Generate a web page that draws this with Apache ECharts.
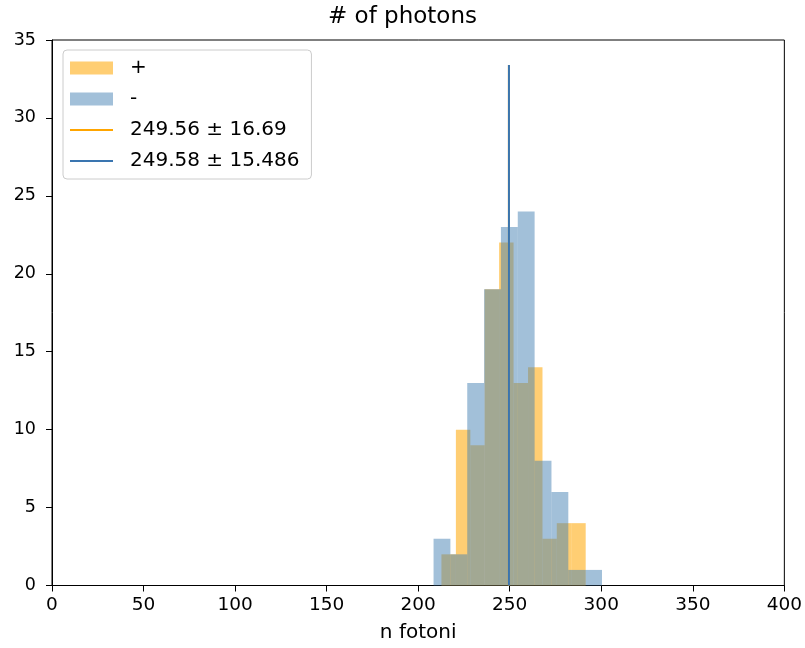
<!DOCTYPE html>
<html>
<head>
<meta charset="utf-8">
<script src="https://cdn.jsdelivr.net/npm/echarts@6/dist/echarts.min.js"></script>
<style>
html,body{margin:0;padding:0;background:#fff;}
#c{width:805px;height:648px;}
</style>
</head>
<body>
<div id="c"></div>
<script>
// ---- data ----
const titleText = '# of photons';
const xName = 'n fotoni';
const plusName = '+';
const minusName = '-';
const plusMeanName = '249.56 \u00b1 16.69';
const minusMeanName = '249.58 \u00b1 15.486';
const plusEdges = [212.7, 220.6, 228.5, 236.3, 244.2, 252.1, 260.0, 267.9, 275.7, 283.6, 291.5];
const plusCounts = [2, 10, 9, 19, 22, 13, 14, 3, 4, 4];
const minusEdges = [208.4, 217.6, 226.8, 236.0, 245.2, 254.4, 263.6, 272.8, 282.0, 291.2, 300.4];
const minusCounts = [3, 2, 13, 19, 23, 24, 8, 6, 1, 1];
const plusMean = 249.56;
const minusMean = 249.58;
const meanLineTop = 33.4;
const xTicks = [0, 400, 50];
const yTicks = [0, 35, 5];

const FONT = 'DejaVu Sans';
const plusFill = 'rgba(255,165,0,0.55)';
const minusFill = 'rgba(70,130,180,0.5)';
const lineIcon = 'path://M0,0 L43,0 L43,2 L0,2 Z';

function histData(edges, counts) {
  return counts.map((c, i) => [edges[i], edges[i + 1], c]);
}
function renderBin(params, api) {
  const p0 = api.coord([api.value(0), 0]);
  const p1 = api.coord([api.value(1), api.value(2)]);
  return {
    type: 'rect',
    shape: { x: p0[0], y: p1[1], width: p1[0] - p0[0], height: p0[1] - p1[1] },
    style: { fill: api.visual('color') }
  };
}

const chart = echarts.init(document.getElementById('c'), null, { renderer: 'canvas' });
chart.setOption({
  animation: false,
  backgroundColor: '#fff',
  title: {
    text: titleText, left: 'center', top: 6, padding: 0,
    textStyle: { fontFamily: FONT, fontSize: 23, fontWeight: 'normal', color: '#000' }
  },
  grid: { left: 52, right: 20.5, top: 40, bottom: 62.5, show: true, borderColor: '#000', borderWidth: 1, backgroundColor: 'transparent' },
  legend: {
    orient: 'vertical', left: 63, top: 50,
    padding: [8, 12, 8, 7],
    itemWidth: 43, itemHeight: 13, itemGap: 11,
    symbolKeepAspect: true,
    backgroundColor: 'rgba(255,255,255,0.8)', borderColor: '#ccc', borderWidth: 1, borderRadius: 4,
    textStyle: { fontFamily: FONT, fontSize: 20, color: '#000', padding: [0, 0, 0, 12] },
    data: [
      { name: plusName, icon: 'rect' },
      { name: minusName, icon: 'rect' },
      { name: plusMeanName, icon: lineIcon },
      { name: minusMeanName, icon: lineIcon }
    ]
  },
  xAxis: {
    type: 'value', min: xTicks[0], max: xTicks[1], interval: xTicks[2],
    name: xName, nameLocation: 'middle', nameGap: 37,
    nameTextStyle: { fontFamily: FONT, fontSize: 20, color: '#000' },
    axisLine: { show: true, lineStyle: { color: '#000', width: 1 } },
    axisTick: { show: true, inside: false, length: 6, lineStyle: { color: '#000' } },
    axisLabel: { fontFamily: FONT, fontSize: 18.5, color: '#000', margin: 10 },
    splitLine: { show: false }
  },
  yAxis: {
    type: 'value', min: yTicks[0], max: yTicks[1], interval: yTicks[2],
    axisLine: { show: true, lineStyle: { color: '#000', width: 1 } },
    axisTick: { show: true, inside: false, length: 6, lineStyle: { color: '#000' } },
    axisLabel: { fontFamily: FONT, fontSize: 17.5, color: '#000', margin: 16 },
    splitLine: { show: false }
  },
  series: [
    {
      name: plusName, type: 'custom', renderItem: renderBin,
      itemStyle: { color: plusFill },
      encode: { x: [0, 1], y: 2 },
      data: histData(plusEdges, plusCounts), z: 1
    },
    {
      name: minusName, type: 'custom', renderItem: renderBin,
      itemStyle: { color: minusFill },
      encode: { x: [0, 1], y: 2 },
      data: histData(minusEdges, minusCounts), z: 2
    },
    {
      name: plusMeanName, type: 'line', symbol: 'none',
      itemStyle: { color: '#ffa500' },
      lineStyle: { color: '#ffa500', width: 2 },
      data: [[plusMean, 0], [plusMean, meanLineTop]], z: 3
    },
    {
      name: minusMeanName, type: 'line', symbol: 'none',
      itemStyle: { color: '#3a75b0' },
      lineStyle: { color: '#3a75b0', width: 2 },
      data: [[minusMean, 0], [minusMean, meanLineTop]], z: 4
    }
  ]
});
</script>
</body>
</html>
